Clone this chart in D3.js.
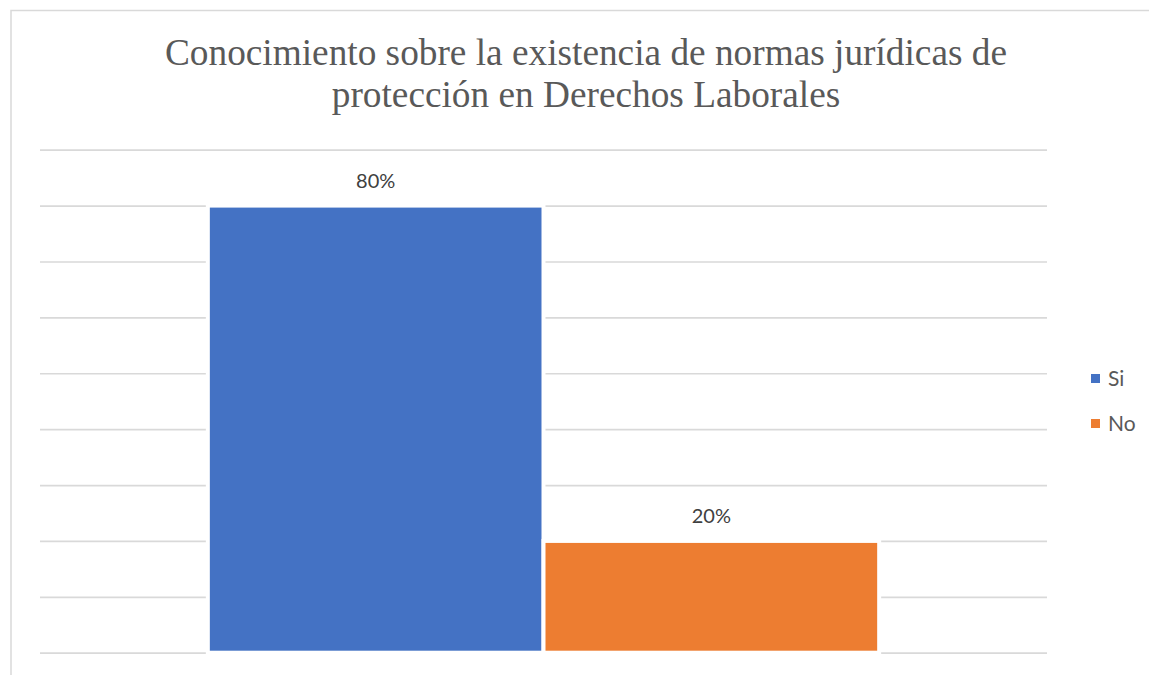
<!DOCTYPE html>
<html>
<head>
<meta charset="utf-8">
<script src="https://cdn.jsdelivr.net/npm/d3@7"></script>
<style>
  html, body { margin: 0; padding: 0; background: #ffffff; }
  svg { display: block; }
</style>
</head>
<body>
<div id="chart"></div>
<script>
// Chart data
const titleLines = ["Conocimiento sobre la existencia de normas jurídicas de", "protección en Derechos Laborales"];
const category = ["Conocimiento"];
const seriesNames = ["Si", "No"];
const seriesValues = [0.80, 0.20];
const seriesColors = ["#4472C4", "#ED7D31"];
const gridTicks = [0, 0.1, 0.2, 0.3, 0.4, 0.5, 0.6, 0.7, 0.8, 0.9];

const W = 1149, H = 675;
const plot = { left: 40, right: 1047, top: 149.7, bottom: 652.7 };

const svg = d3.select("#chart").append("svg")
  .attr("width", W).attr("height", H);

// chart frame (extends past the visible area on the right and bottom)
svg.append("rect")
  .attr("x", 11).attr("y", 10.5)
  .attr("width", W + 50).attr("height", H + 50)
  .attr("fill", "#ffffff")
  .attr("stroke", "#d9d9d9").attr("stroke-width", 1.5);

// title
const title = svg.append("text")
  .attr("text-anchor", "middle")
  .attr("font-family", "'Liberation Serif', 'Times New Roman', serif")
  .attr("font-size", 37.3)
  .attr("fill", "#595959");
title.selectAll("tspan").data(titleLines).join("tspan")
  .attr("x", 586)
  .attr("y", (d, i) => 64.5 + i * 42.5)
  .text(d => d);

// scales
const y = d3.scaleLinear().domain([0, 0.9]).range([plot.bottom, plot.top]);
const x0 = d3.scaleBand().domain(category).range([plot.left, plot.right]).paddingInner(0).paddingOuter(0.25);
const x1 = d3.scaleBand().domain(seriesNames).range([0, x0.bandwidth()]).padding(0);

// horizontal gridlines
const yAxis = d3.axisLeft(y).tickValues(gridTicks).tickSize(-(plot.right - plot.left)).tickFormat("");
const gAxis = svg.append("g")
  .attr("transform", `translate(${plot.left},0)`)
  .call(yAxis);
gAxis.select(".domain").remove();
gAxis.selectAll(".tick line")
  .attr("stroke", "#d9d9d9")
  .attr("stroke-width", 1.7);

// bars
const gBars = svg.append("g").attr("transform", `translate(${x0(category[0])},0)`);
gBars.selectAll("rect").data(seriesNames).join("rect")
  .attr("x", d => x1(d))
  .attr("y", (d, i) => y(seriesValues[i]))
  .attr("width", x1.bandwidth())
  .attr("height", (d, i) => y(0) - y(seriesValues[i]))
  .attr("fill", (d, i) => seriesColors[i])
  .attr("stroke", "#ffffff")
  .attr("stroke-width", 4);

// value labels
gBars.selectAll("text").data(seriesNames).join("text")
  .attr("x", d => x1(d) + x1.bandwidth() / 2)
  .attr("y", (d, i) => y(seriesValues[i]) - 18)
  .attr("text-anchor", "middle")
  .attr("font-family", "Lato, 'Open Sans', sans-serif")
  .attr("font-size", 20)
  .attr("fill", "#404040")
  .text((d, i) => d3.format(".0%")(seriesValues[i]));

// legend
const legend = svg.append("g").attr("transform", "translate(1091,374)");
const items = legend.selectAll("g").data(seriesNames).join("g")
  .attr("transform", (d, i) => `translate(0,${i * 45})`);
items.append("rect")
  .attr("width", 9).attr("height", 9)
  .attr("fill", (d, i) => seriesColors[i]);
items.append("text")
  .attr("x", 17).attr("y", 12)
  .attr("font-family", "Lato, 'Open Sans', sans-serif")
  .attr("font-size", 21)
  .attr("fill", "#595959")
  .text(d => d);
</script>
</body>
</html>
